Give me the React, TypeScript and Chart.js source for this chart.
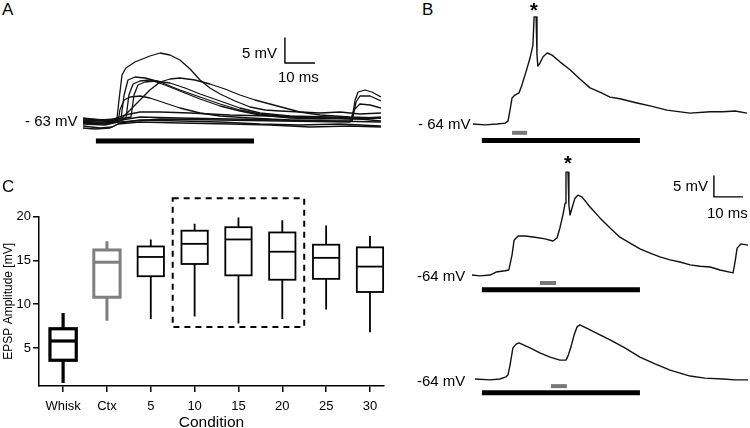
import React, { useEffect, useRef } from 'react';
import { Chart, registerables } from 'chart.js';

Chart.register(...registerables);

const FONT = '"Liberation Sans", Arial, Helvetica, sans-serif';
Chart.defaults.font.family = FONT;
Chart.defaults.color = '#000';

// ---------- Panel A: overlaid traces, [time ms, membrane potential mV] ----------
const traceA1 = [[0, -63.2], [5.7, -63.6], [9.7, -63.2], [11.3, -62.8], [12, -59], [13, -54], [14.3, -52.6], [17.3, -51.4], [22.3, -50.2], [25.7, -49.6], [29, -50], [32.3, -51], [35.7, -52.8], [39, -55], [42.3, -56.6], [45.7, -57.8], [50.7, -59.2], [55.7, -60.4], [60.7, -61], [65.7, -61.2], [72.3, -61.4], [79, -61.6], [85.7, -61.4], [92.3, -61.8], [99.3, -61.6]];
const traceA2 = [[0, -62.6], [5.7, -63], [10.7, -62.8], [12.7, -62.6], [13.7, -58], [15, -55], [17.3, -54.4], [20.7, -54.6], [25.7, -55.4], [32.3, -57], [39, -58.4], [45.7, -59.8], [52.3, -61], [59, -61.8], [65.7, -62.2], [72.3, -62.4], [82.3, -62.6], [92.3, -62.8], [99.3, -62.6]];
const traceA3 = [[0, -63.6], [7.3, -63.8], [12.3, -63.2], [14.3, -62.8], [15.3, -58], [16.7, -55.8], [19, -55.2], [22.3, -55], [27.3, -56], [32.3, -57.2], [39, -58.8], [45.7, -60.2], [52.3, -61.2], [59, -62], [69, -62.6], [79, -62.8], [89, -62.6], [99.3, -63.2]];
const traceA4 = [[0, -63], [9, -63.2], [14, -62.6], [16, -62.4], [17, -58], [18.3, -56], [20.7, -55.4], [24, -55.2], [29, -55.6], [34, -56.6], [39, -57.8], [45.7, -59.2], [52.3, -60.6], [59, -61.6], [69, -62.2], [82.3, -62.4], [89.7, -62.6], [90.7, -59], [91.7, -57.4], [94, -57], [96.3, -57.4], [99.3, -58.4]];
const traceA5 = [[0, -63.4], [9, -63.6], [13, -62.6], [15.7, -61], [19, -59], [22.3, -57], [25.7, -55.4], [29, -54.8], [32.3, -54.6], [37.3, -55], [42.3, -55.8], [47.3, -56.8], [52.3, -58], [57.3, -59], [62.3, -59.8], [67.3, -60.6], [72.3, -61.4], [79, -62], [89, -62.4], [99.3, -62.6]];
const traceA6 = [[0, -63.8], [7.3, -64], [11.7, -63.4], [12.3, -61], [13.7, -59], [15.7, -58.4], [19, -58.2], [22.3, -58.6], [27.3, -59.6], [32.3, -60.6], [39, -61.6], [45.7, -62.2], [55.7, -62.6], [69, -63], [82.3, -63.2], [99.3, -63.4]];
const traceA7 = [[0, -62.8], [9, -63], [14, -62], [19, -61.4], [25.7, -61.4], [35.7, -61.6], [49, -62], [62.3, -62.2], [75.7, -62.6], [89, -62.8], [99.3, -62.4]];
const traceA8 = [[0, -64.2], [5.7, -64.6], [9.7, -64.4], [12.3, -63.6], [19, -63], [32.3, -63.2], [45.7, -63.4], [59, -63.8], [72.3, -64], [85.7, -63.8], [99.3, -64.2]];
const traceA9 = [[0, -64.6], [4, -64.8], [9, -64.6], [11.7, -63.8], [19, -63.4], [32.3, -63.6], [49, -63.8], [62.3, -64], [75.7, -64.4], [89, -64.2], [99.3, -64.4]];
const traceA10 = [[0, -63.2], [10.7, -63.2], [19, -62.4], [32.3, -62.6], [49, -62.8], [65.7, -63], [82.3, -63.2], [89.7, -63.2], [91, -59.4], [92.3, -58.2], [95.7, -58.2], [99.3, -59.2]];
const traceA11 = [[0, -63.6], [12.3, -63.4], [25.7, -62.8], [45.7, -63], [65.7, -63.2], [89, -63.4], [90.3, -61], [92.3, -59.8], [95.7, -60], [99.3, -60.6]];
const stimA = [4.3, 57.0]; // ms, whisker stimulation bar

// ---------- Panel B: single traces ----------
const traceB1 = [[1, -64], [5.2, -64.2], [9.3, -64], [12.1, -63.8], [13.1, -63.3], [13.8, -60.7], [14.5, -57.8], [15.5, -57.1], [16.9, -56.6], [17.9, -54.7], [19.3, -51.6], [20.7, -48.3], [21.7, -45.2], [22.1, -38.5], [22.8, -38.5], [23.1, -47.6], [23.4, -50.2], [24.1, -49.5], [25.2, -48], [26.6, -47.1], [28.3, -47.6], [31, -49.2], [34.5, -51.1], [37.9, -53.3], [41.4, -55.4], [44.8, -56.4], [48.3, -57.6], [51.7, -58], [57.6, -59], [62.1, -59.7], [67.9, -60.7], [75.9, -61.4], [82.8, -61.1], [87.2, -61.1], [91.4, -60.9], [95.5, -61.4]];
const traceB2 = [[0.7, -64], [3.4, -64.2], [6.9, -64], [9, -63.3], [12.1, -63], [13.4, -62.8], [14.5, -59.2], [15.2, -55.7], [16.6, -54.7], [19, -54.7], [22.4, -55], [25.9, -55.4], [28.6, -55.9], [30, -55.2], [31, -52.8], [32.1, -49.5], [32.8, -46.9], [33.1, -39.5], [33.8, -39.5], [34.1, -47.3], [34.5, -49.7], [35.2, -48], [36.2, -45.7], [37.2, -45], [38.6, -45.4], [41.4, -47.8], [44.8, -50.4], [48.3, -52.8], [51.7, -55], [55.2, -56.4], [58.6, -57.8], [62.1, -58.8], [65.5, -59.7], [69, -60.4], [72.4, -60.9], [75.9, -61.6], [79.3, -61.9], [82.8, -62.1], [86.2, -62.8], [90.7, -63.5], [91.4, -60.9], [92.1, -57.6], [93.4, -56.6], [95.9, -56.9]];
const traceB3 = [[1.7, -64], [6.9, -64.2], [10.3, -64], [12.4, -63.5], [13.1, -63], [13.8, -60.7], [14.8, -56.6], [15.9, -55.7], [16.9, -55.4], [20.7, -56.6], [24.1, -57.8], [27.6, -58.8], [31, -59.5], [33.1, -59.5], [33.8, -58.5], [34.8, -56.4], [35.9, -53.5], [36.9, -51.6], [37.9, -51.1], [41.4, -52.3], [44.8, -53.5], [48.3, -54.7], [53.4, -56.6], [58.6, -58.8], [63.8, -60.4], [69, -61.9], [75.9, -63.3], [81, -63.8], [87.2, -64], [91.4, -64.2], [95.9, -64.2]];
const stimB = [4.1, 58.6];        // ms, whisker stimulation bar
const ctxStimB1 = [14.5, 19.7];   // ms, cortical stimulation (grey)
const ctxStimB2 = [24.1, 29.7];
const ctxStimB3 = [27.9, 33.4];

// ---------- Panel C: box plot ----------
const conditions = ['Whisk', 'Ctx', '5', '10', '15', '20', '25', '30'];
const whiskerMin = [1.0, 8.1, 8.3, 8.6, 7.8, 8.3, 9.4, 6.8];
const quart1 = [3.6, 10.8, 13.2, 14.6, 13.3, 12.8, 12.9, 11.4];
const medians = [5.8, 14.8, 15.4, 16.9, 17.4, 16.0, 15.3, 14.3];
const quart3 = [7.2, 16.2, 16.6, 18.4, 18.8, 18.2, 16.8, 16.5];
const whiskerMax = [9.0, 17.2, 17.4, 19.2, 19.9, 19.6, 19.0, 17.8];
const yTickValues = [5, 10, 15, 20];

// styles
const boxColors = ['#000', '#7f7f7f', '#000', '#000', '#000', '#000', '#000', '#000'];
const boxWidths = [3.2, 3, 1.8, 1.8, 1.8, 1.8, 1.8, 1.8];

type Pt = number[];
const TRACE_COLOR = '#111';

function traceDs(pts: Pt[], width = 1.3, color = TRACE_COLOR) {
  return {
    data: pts.map(([x, y]) => ({ x, y })),
    borderColor: color,
    borderWidth: width,
    pointRadius: 0,
    fill: false,
    tension: 0,
    borderCapStyle: 'butt',
    borderJoinStyle: 'round',
  };
}
function hbar(range: number[], v: number, width: number, color: string) {
  return traceDs([[range[0], v], [range[1], v]], width, color);
}
function scaleBar(t: number, v: number, mv: number, ms: number) {
  return traceDs([[t, v + mv], [t, v], [t + ms, v]], 1.4, '#000');
}

type Box = { x: number; y: number; w: number; h: number };

function TraceChart({ box, xr, yr, datasets }: { box: Box; xr: number[]; yr: number[]; datasets: any[] }) {
  const ref = useRef<HTMLCanvasElement>(null);
  useEffect(() => {
    const chart = new Chart(ref.current as HTMLCanvasElement, {
      type: 'line',
      data: { datasets },
      options: {
        responsive: false,
        animation: false,
        events: [],
        devicePixelRatio: 1,
        layout: { padding: 0 },
        plugins: { legend: { display: false }, tooltip: { enabled: false } },
        scales: {
          x: { type: 'linear', display: false, min: xr[0], max: xr[1] },
          y: { type: 'linear', display: false, min: yr[0], max: yr[1] },
        },
      },
    } as any);
    return () => chart.destroy();
  }, []);
  return (
    <canvas
      ref={ref}
      width={box.w}
      height={box.h}
      style={{ position: 'absolute', left: box.x, top: box.y, width: box.w, height: box.h }}
    />
  );
}

const boxPlotPlugin = {
  id: 'boxplot',
  afterDatasetsDraw(chart: any) {
    const { ctx, scales } = chart;
    const xs = scales.x;
    const ys = scales.y;
    const half = 0.3;
    ctx.save();
    conditions.forEach((_, i) => {
      const cx = xs.getPixelForValue(i);
      const l = xs.getPixelForValue(i - half);
      const r = xs.getPixelForValue(i + half);
      const yMin = ys.getPixelForValue(whiskerMin[i]);
      const yQ1 = ys.getPixelForValue(quart1[i]);
      const yMed = ys.getPixelForValue(medians[i]);
      const yQ3 = ys.getPixelForValue(quart3[i]);
      const yMax = ys.getPixelForValue(whiskerMax[i]);
      ctx.strokeStyle = boxColors[i];
      ctx.lineWidth = boxWidths[i];
      ctx.lineCap = 'butt';
      ctx.beginPath();
      ctx.moveTo(cx, yMin); ctx.lineTo(cx, yQ1);
      ctx.moveTo(cx, yQ3); ctx.lineTo(cx, yMax);
      ctx.stroke();
      ctx.strokeRect(l, yQ3, r - l, yQ1 - yQ3);
      ctx.beginPath();
      ctx.moveTo(l, yMed); ctx.lineTo(r, yMed);
      ctx.stroke();
    });
    // dashed highlight around conditions 10-20
    const x0 = xs.getPixelForValue(2.5);
    const x1 = xs.getPixelForValue(5.5);
    const y0 = ys.getPixelForValue(22.1);
    const y1 = ys.getPixelForValue(7.4);
    ctx.strokeStyle = '#000';
    ctx.lineWidth = 2;
    ctx.setLineDash([6, 5]);
    ctx.strokeRect(x0, y0, x1 - x0, y1 - y0);
    ctx.restore();
  },
};

function BoxChart({ box }: { box: Box }) {
  const ref = useRef<HTMLCanvasElement>(null);
  useEffect(() => {
    const axisGrid = { drawOnChartArea: false, drawTicks: true, tickLength: 6, color: '#000', lineWidth: 1.5 };
    const axisBorder = { display: true, color: '#000', width: 1.5 };
    const chart = new Chart(ref.current as HTMLCanvasElement, {
      type: 'scatter',
      data: {
        datasets: [
          { data: medians.map((m, i) => ({ x: i, y: m })), pointRadius: 0, showLine: false },
        ],
      },
      options: {
        responsive: false,
        animation: false,
        events: [],
        devicePixelRatio: 1,
        layout: { padding: { top: 31.7, right: 6, left: 0, bottom: 0 } },
        plugins: { legend: { display: false }, tooltip: { enabled: false } },
        scales: {
          x: {
            type: 'linear',
            min: -0.55,
            max: 7.32,
            afterBuildTicks: (s: any) => { s.ticks = conditions.map((_, i) => ({ value: i })); },
            afterFit: (s: any) => { s.height = 42; },
            ticks: {
              autoSkip: false,
              maxRotation: 0,
              padding: 7,
              color: '#000',
              font: { size: 13, family: FONT },
              callback: (v: any) => conditions[v as number],
            },
            grid: axisGrid,
            border: axisBorder,
            title: { display: true, text: 'Condition', color: '#000', font: { size: 15.5, family: FONT }, padding: { top: 0, bottom: -4 } },
          },
          y: {
            type: 'linear',
            min: 0.66,
            max: 20,
            afterBuildTicks: (s: any) => { s.ticks = yTickValues.map((v) => ({ value: v })); },
            afterFit: (s: any) => { s.width = 39; },
            ticks: { padding: 2, color: '#000', font: { size: 13, family: FONT } },
            grid: axisGrid,
            border: axisBorder,
            title: { display: true, text: 'EPSP Amplitude [mV]', color: '#000', font: { size: 12, family: FONT }, padding: { top: 1, bottom: 0 } },
          },
        },
      },
      plugins: [boxPlotPlugin],
    } as any);
    return () => chart.destroy();
  }, []);
  return (
    <canvas
      ref={ref}
      width={box.w}
      height={box.h}
      style={{ position: 'absolute', left: box.x, top: box.y, width: box.w, height: box.h }}
    />
  );
}

function Label({ x, top, size, text, bold }: { x: number; top: number; size: number; text: string; bold?: boolean }) {
  return (
    <div
      style={{
        position: 'absolute',
        left: x,
        top,
        fontFamily: FONT,
        fontSize: size,
        lineHeight: 1,
        fontWeight: bold ? 'bold' : 'normal',
        whiteSpace: 'nowrap',
        color: '#000',
      }}
    >
      {text}
    </div>
  );
}

export default function App() {
  const dsA = [
    traceA9, traceA8, traceA11, traceA10, traceA7, traceA6, traceA5, traceA4, traceA3, traceA2, traceA1,
  ].map((t) => traceDs(t, 1.3));
  dsA.push(hbar(stimA, -67.2, 5, '#000'));
  dsA.push(scaleBar(67.3, -51.6, 5, 10));

  const dsB1 = [traceDs(traceB1, 1.4), hbar(ctxStimB1, -66.1, 4, '#777'), hbar(stimB, -67.9, 5, '#000')];
  const dsB2 = [traceDs(traceB2, 1.4), hbar(ctxStimB2, -65.9, 4, '#777'), hbar(stimB, -67.5, 5, '#000'), scaleBar(84.1, -45.4, 5, 10)];
  const dsB3 = [traceDs(traceB3, 1.4), hbar(ctxStimB3, -65.7, 4, '#777'), hbar(stimB, -67.3, 5, '#000')];

  return (
    <div style={{ position: 'fixed', left: 0, top: 0, width: 750, height: 428, overflow: 'hidden', background: '#fff' }}>
      <TraceChart box={{ x: 83, y: 30, w: 298, h: 120 }} xr={[0, 99.33]} yr={[-69, -45]} datasets={dsA} />
      <TraceChart box={{ x: 470, y: 0, w: 280, h: 150 }} xr={[0, 96.55]} yr={[-70.19, -34.48]} datasets={dsB1} />
      <TraceChart box={{ x: 470, y: 150, w: 280, h: 150 }} xr={[0, 96.55]} yr={[-69.95, -34.24]} datasets={dsB2} />
      <TraceChart box={{ x: 470, y: 300, w: 280, h: 110 }} xr={[0, 96.55]} yr={[-71.38, -45.19]} datasets={dsB3} />
      <BoxChart box={{ x: 0, y: 185, w: 390, h: 243 }} />

      <Label x={2} top={0.6} size={17} text="A" />
      <Label x={422} top={0.6} size={17} text="B" />
      <Label x={2} top={177.6} size={17} text="C" />

      <Label x={25} top={112.7} size={15} text="- 63 mV" />
      <Label x={242} top={44.7} size={15} text="5 mV" />
      <Label x={278} top={68.7} size={15} text="10 ms" />

      <Label x={418} top={115.5} size={15} text="- 64 mV" />
      <Label x={530} top={0.4} size={20} bold text="*" />

      <Label x={564} top={153.4} size={20} bold text="*" />
      <Label x={673} top={177.7} size={15} text="5 mV" />
      <Label x={707} top={204.7} size={15} text="10 ms" />
      <Label x={417} top={267.7} size={15} text="-64 mV" />

      <Label x={417} top={372.7} size={15} text="-64 mV" />
    </div>
  );
}
